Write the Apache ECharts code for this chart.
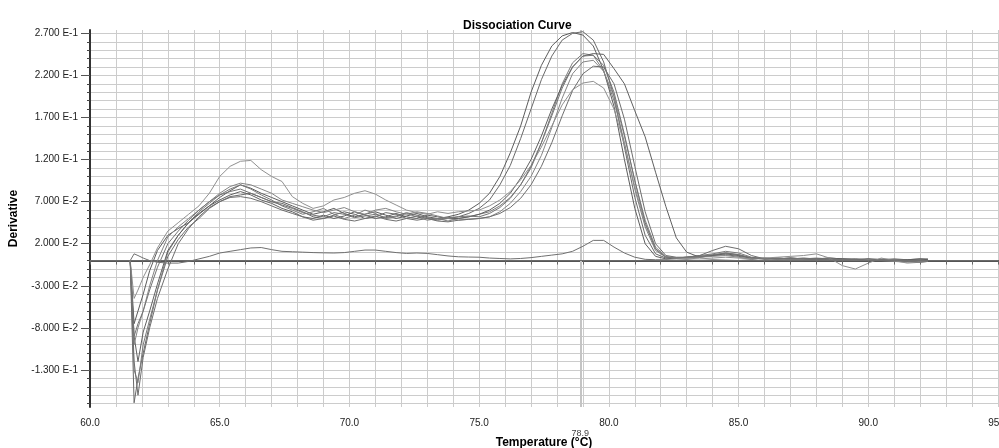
<!DOCTYPE html>
<html><head><meta charset="utf-8">
<script src="https://cdn.jsdelivr.net/npm/echarts@6/dist/echarts.min.js"></script>
<style>html,body{margin:0;padding:0;background:#fff}#c{width:999px;height:448px}</style>
</head><body><div id="c"></div>
<script>
const temps = [61.55,61.7,61.85,62.05,62.3,62.6,63.0,
  63.4,63.8,64.2,64.6,65.0,65.4,65.8,66.2,66.6,67.0,67.4,
  67.8,68.2,68.6,69.0,69.4,69.8,70.2,70.6,71.0,71.4,71.8,72.2,72.6,73.0,73.4,73.8,74.2,74.6,
  75.0,75.4,75.8,76.2,76.6,77.0,77.4,77.8,78.2,78.6,79.0,79.4,79.8,80.2,80.6,81.0,81.4,81.8,82.2,82.6,
  83.0,83.5,84.0,84.5,85.0,85.5,86.0,86.5,87.0,87.5,88.0,88.5,89.0,89.5,90.0,90.5,91.0,91.5,92.0,92.3];

const well1 = [0,-0.075,-0.06,-0.04,-0.012,0.012,0.03,
  0.038,0.045,0.055,0.065,0.075,0.083,0.09,0.086,0.08,0.075,0.07,
  0.065,0.06,0.055,0.058,0.062,0.056,0.052,0.055,0.058,0.054,0.05,0.053,0.056,0.052,0.05,0.052,0.055,0.06,
  0.068,0.08,0.1,0.128,0.16,0.2,0.232,0.255,0.267,0.271,0.268,0.255,0.226,0.183,0.12,0.062,0.02,0.005,0.002,0.003,
  0.004,0.005,0.006,0.008,0.006,0.003,0.002,0.003,0.002,0.003,0.002,0.003,0.002,0.001,0.002,0.001,0.002,0.001,0.002,0.002];
const well2 = [0,-0.169,-0.14,-0.11,-0.075,-0.035,0.005,
  0.025,0.04,0.05,0.062,0.07,0.076,0.078,0.08,0.075,0.07,0.068,
  0.063,0.058,0.052,0.05,0.054,0.058,0.055,0.05,0.052,0.057,0.055,0.05,0.048,0.05,0.048,0.05,0.052,0.056,
  0.062,0.072,0.09,0.113,0.145,0.18,0.215,0.243,0.262,0.27,0.272,0.262,0.236,0.195,0.135,0.075,0.03,0.008,0.003,0.003,
  0.003,0.004,0.006,0.007,0.005,0.003,0.002,0.002,0.003,0.002,0.002,0.001,0.002,0.002,0.001,0.0,0.001,0.0,0.001,0.001];
const well3 = [0,-0.13,-0.145,-0.1,-0.07,-0.035,0.01,
  0.03,0.045,0.058,0.068,0.078,0.085,0.09,0.085,0.078,0.072,0.065,
  0.06,0.055,0.058,0.062,0.055,0.05,0.054,0.06,0.056,0.05,0.052,0.056,0.052,0.048,0.05,0.047,0.05,0.052,
  0.055,0.058,0.065,0.075,0.09,0.11,0.14,0.175,0.21,0.235,0.246,0.244,0.225,0.19,0.14,0.085,0.04,0.012,0.004,0.003,
  0.004,0.006,0.008,0.011,0.009,0.004,0.002,0.002,0.001,0.002,0.003,0.002,0.001,0.002,0.001,0.002,0.001,0.001,0.0,0.001];
const well4 = [0,-0.09,-0.12,-0.085,-0.06,-0.028,0.012,
  0.03,0.045,0.056,0.065,0.072,0.078,0.082,0.078,0.072,0.068,0.062,
  0.058,0.052,0.05,0.054,0.05,0.053,0.058,0.054,0.05,0.052,0.056,0.052,0.05,0.054,0.052,0.05,0.05,0.052,
  0.055,0.06,0.068,0.08,0.098,0.12,0.148,0.18,0.208,0.23,0.243,0.246,0.245,0.228,0.21,0.178,0.147,0.105,0.064,0.027,
  0.01,0.004,0.006,0.009,0.007,0.003,0.003,0.002,0.003,0.002,0.002,0.003,0.002,0.001,0.002,0.001,0.0,0.001,0.002,0.001];
const well5 = [0,-0.1,-0.08,-0.06,-0.03,0.0,0.028,
  0.04,0.05,0.06,0.07,0.08,0.088,0.092,0.09,0.085,0.08,0.072,
  0.068,0.064,0.06,0.057,0.06,0.063,0.058,0.055,0.06,0.062,0.058,0.055,0.058,0.056,0.053,0.05,0.048,0.049,
  0.05,0.052,0.058,0.068,0.082,0.1,0.125,0.158,0.193,0.222,0.236,0.238,0.225,0.195,0.148,0.095,0.048,0.016,0.005,0.003,
  0.003,0.004,0.005,0.006,0.004,0.002,0.003,0.002,0.001,0.002,0.001,0.002,0.001,0.0,0.001,0.0,-0.001,-0.002,-0.001,0.0];
const well6 = [0,-0.12,-0.16,-0.115,-0.08,-0.045,-0.01,
  0.02,0.038,0.052,0.063,0.07,0.075,0.076,0.074,0.07,0.065,0.06,
  0.056,0.052,0.048,0.05,0.053,0.049,0.047,0.05,0.053,0.049,0.047,0.05,0.053,0.05,0.047,0.046,0.048,0.049,
  0.05,0.052,0.056,0.063,0.074,0.09,0.112,0.14,0.172,0.202,0.222,0.231,0.23,0.21,0.168,0.112,0.058,0.02,0.006,0.004,
  0.004,0.006,0.012,0.017,0.014,0.006,0.002,0.003,0.002,0.002,0.001,0.002,0.001,0.001,0.0,0.001,0.0,-0.001,0.0,0.0];
const well7 = [0,-0.045,-0.035,-0.02,-0.005,0.015,0.035,
  0.045,0.055,0.065,0.08,0.1,0.112,0.118,0.119,0.108,0.1,0.094,
  0.076,0.068,0.062,0.065,0.072,0.075,0.08,0.083,0.079,0.072,0.066,0.06,0.057,0.055,0.058,0.056,0.058,0.059,
  0.06,0.065,0.072,0.082,0.096,0.113,0.135,0.16,0.185,0.203,0.211,0.213,0.205,0.18,0.138,0.088,0.043,0.014,0.004,0.003,
  0.003,0.002,0.003,0.004,0.003,0.002,0.003,0.004,0.005,0.006,0.008,0.003,-0.006,-0.01,-0.003,0.003,0.0,-0.003,-0.002,-0.001];
const well8 = [0,-0.09,-0.075,-0.06,-0.035,-0.008,0.02,
  0.035,0.048,0.06,0.07,0.078,0.082,0.085,0.08,0.075,0.07,0.066,
  0.062,0.057,0.054,0.052,0.057,0.055,0.051,0.053,0.055,0.051,0.053,0.057,0.054,0.051,0.049,0.051,0.052,0.053,
  0.052,0.056,0.063,0.074,0.09,0.112,0.14,0.172,0.205,0.23,0.243,0.244,0.232,0.2,0.15,0.095,0.045,0.014,0.004,0.003,
  0.004,0.005,0.007,0.009,0.007,0.003,0.002,0.002,0.003,0.002,0.002,0.002,0.001,0.001,0.0,0.001,0.0,-0.001,-0.002,-0.001];
const ntc = [0,0.008,0.006,0.003,0.0,-0.002,-0.003,
  -0.003,-0.001,0.002,0.005,0.009,0.011,0.013,0.015,0.0155,0.013,0.011,
  0.0105,0.01,0.0095,0.0092,0.009,0.0095,0.011,0.0125,0.0125,0.011,0.0095,0.0085,0.009,0.0085,0.007,0.0055,0.0045,0.0042,
  0.004,0.003,0.0025,0.002,0.0025,0.0035,0.005,0.0065,0.008,0.011,0.017,0.024,0.024,0.016,0.009,0.004,0.0015,0.001,0.001,0.0005,
  0.001,0.0,0.001,0.0005,0.0,0.001,0.0,0.0005,0.0,0.0,0.0005,0.0,0.0,0.0005,0.0,0.0,0.0005,0.0,0.0,0.0];

const wells = [well1, well2, well3, well4, well5, well6, well7, well8, ntc];
const wellColors = ['#5c5c5c','#6a6a6a','#7c7c7c','#606060','#858585','#6e6e6e','#909090','#747474','#707070'];

const yLabelValues = [0.27,0.22,0.17,0.12,0.07,0.02,-0.03,-0.08,-0.13];
const yLabelTexts = ['2.700 E-1','2.200 E-1','1.700 E-1','1.200 E-1','7.000 E-2','2.000 E-2','-3.000 E-2','-8.000 E-2','-1.300 E-1'];
const xLabelValues = [60,65,70,75,80,85,90,95];
const xLabelTexts = ['60.0','65.0','70.0','75.0','80.0','85.0','90.0','95.0'];
const tmValues = [78.9];
const tmTexts = ['78.9'];
const yMin = -0.174, yMax = 0.274;

const yGrid = [];
for (let k = -17; k <= 27; k++) yGrid.push(+(k * 0.01).toFixed(2));

const FONT = 'Liberation Sans, Arial, sans-serif';
const chart = echarts.init(document.getElementById('c'), null, {renderer: 'canvas'});

const series = wells.map((w, i) => ({
  type: 'line',
  name: 'well' + (i + 1),
  data: temps.map((t, j) => [t, w[j]]),
  showSymbol: false,
  symbol: 'none',
  lineStyle: {width: 1, color: wellColors[i]},
  itemStyle: {color: wellColors[i]},
  z: 5,
  animation: false
}));

series.push({
  type: 'line',
  name: 'markers',
  data: [],
  z: 2,
  animation: false,
  markLine: {
    silent: true,
    symbol: 'none',
    animation: false,
    data: [
      ...tmValues.map((v, i) => ({
        xAxis: v,
        lineStyle: {color: '#c4c4c4', width: 2, type: 'solid'},
        label: {show: true, position: 'start', distance: 22, formatter: tmTexts[i], color: '#444', fontSize: 9, fontFamily: FONT}
      })),
      {yAxis: 0, lineStyle: {color: '#6a6a6a', width: 1, type: 'solid'}, label: {show: false}}
    ]
  }
});

chart.setOption({
  animation: false,
  backgroundColor: '#fff',
  title: {
    text: 'Dissociation Curve',
    left: 458, top: 15,
    textStyle: {fontFamily: FONT, fontWeight: 'bold', fontSize: 12, color: '#000'}
  },
  grid: {left: 90, right: 1, top: 30, bottom: 41, containLabel: false, outerBoundsMode: 'none'},
  xAxis: [{
    type: 'value', min: 60, max: 95, interval: 1,
    name: 'Temperature (°C)', nameLocation: 'middle', nameGap: 30,
    nameTextStyle: {fontFamily: FONT, fontWeight: 'bold', fontSize: 12, color: '#000'},
    axisLine: {show: true, lineStyle: {color: '#555', width: 2}},
    axisTick: {show: true, length: 4, lineStyle: {color: '#666'}},
    axisLabel: {
      margin: 11, fontSize: 10, color: '#222', fontFamily: FONT, alignMaxLabel: 'center', alignMinLabel: 'center',
      formatter: v => { const i = xLabelValues.indexOf(Math.round(v * 10) / 10); return i >= 0 ? xLabelTexts[i] : ''; }
    },
    splitLine: {show: true, lineStyle: {color: '#cccccc', width: 1}}
  }, {
    type: 'value', min: 60, max: 95, position: 'top',
    axisLine: {show: true, lineStyle: {color: '#555', width: 2}},
    axisTick: {show: false}, axisLabel: {show: false}, splitLine: {show: false}
  }],
  yAxis: [{
    type: 'value', min: yMin, max: yMax, position: 'left',
    name: 'Derivative', nameLocation: 'middle', nameGap: 70,
    nameTextStyle: {fontFamily: FONT, fontWeight: 'bold', fontSize: 12, color: '#000'},
    axisLine: {show: true, lineStyle: {color: '#333', width: 2}},
    axisTick: {show: true, length: 3, customValues: yGrid, lineStyle: {color: '#444'}},
    axisLabel: {show: false, customValues: yGrid},
    splitLine: {show: true, lineStyle: {color: '#cccccc', width: 1}}
  }, {
    type: 'value', min: yMin, max: yMax, position: 'left',
    axisLine: {show: false},
    axisTick: {show: true, length: 9, customValues: yLabelValues, lineStyle: {color: '#555'}},
    axisLabel: {
      show: true, customValues: yLabelValues, margin: 12, fontSize: 10, color: '#222', fontFamily: FONT,
      formatter: v => { const i = yLabelValues.findIndex(x => Math.abs(x - v) < 1e-6); return i >= 0 ? yLabelTexts[i] : ''; }
    },
    splitLine: {show: false}
  }],
  series: series
});
</script>
</body></html>
